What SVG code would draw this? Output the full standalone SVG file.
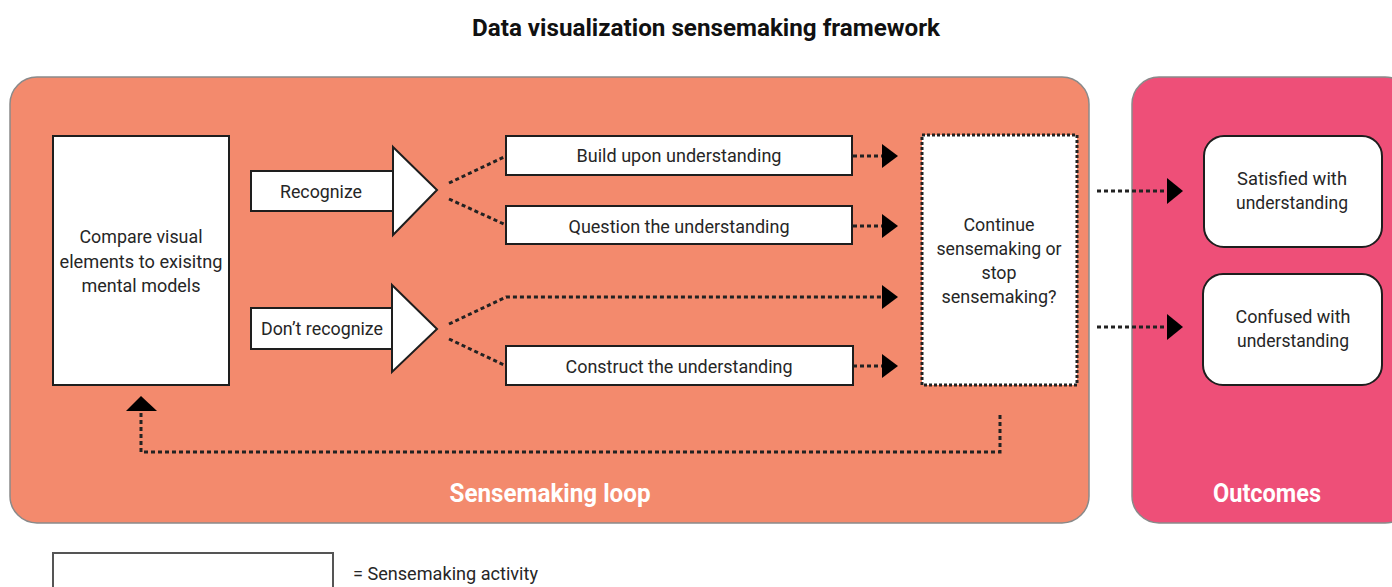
<svg xmlns="http://www.w3.org/2000/svg" width="1392" height="587" viewBox="0 0 1392 587">
  <defs>
    <style>
      .panel { stroke: #8a8a8a; stroke-width: 1.5; }
      .box { fill: #ffffff; stroke: #1e1e1e; stroke-width: 2; }
      .txt { font-family: Roboto, "Liberation Sans", sans-serif; font-size: 18px; fill: #262626; }
      .title { font-family: Roboto, "Liberation Sans", sans-serif; font-size: 24px; font-weight: bold; fill: #111111; }
      .plabel { font-family: Roboto, "Liberation Sans", sans-serif; font-size: 25px; font-weight: bold; fill: #ffffff; }
      .dot { fill: none; stroke: #222222; stroke-width: 3; stroke-dasharray: 4 3; }
      .head { fill: #000000; }
    </style>
  </defs>

  <rect width="1392" height="587" fill="#ffffff"/>

  <!-- title -->
  <text class="title" x="706" y="36" text-anchor="middle" textLength="468" lengthAdjust="spacingAndGlyphs">Data visualization sensemaking framework</text>

  <!-- background panels -->
  <g id="panel-loop">
    <rect class="panel" x="10" y="77" width="1079" height="446" rx="27" fill="#F38A6D"/>
    <text class="plabel" x="550" y="502" text-anchor="middle" textLength="201" lengthAdjust="spacingAndGlyphs">Sensemaking loop</text>
  </g>
  <g id="panel-outcomes">
    <rect class="panel" x="1132" y="77" width="280" height="446" rx="27" fill="#EE4F78"/>
    <text class="plabel" x="1267" y="502" text-anchor="middle" textLength="108" lengthAdjust="spacingAndGlyphs">Outcomes</text>
  </g>

  <!-- connectors -->
  <g id="connectors">
    <!-- branches after Recognize -->
    <path class="dot" d="M449 183 L506 156"/>
    <path class="dot" d="M449 199 L506 225"/>
    <!-- branches after Don't recognize -->
    <path class="dot" d="M449 324 L506 297 L883 297"/>
    <path class="dot" d="M449 339 L506 366"/>
    <!-- into the decision box -->
    <path class="dot" d="M853 156 L883 156"/>
    <path class="dot" d="M853 226 L883 226"/>
    <path class="dot" d="M853 366 L883 366"/>
    <polygon class="head" points="882,144 898,156 882,168"/>
    <polygon class="head" points="882,214 898,226 882,238"/>
    <polygon class="head" points="882,285 898,297 882,309"/>
    <polygon class="head" points="882,354 898,366 882,378"/>
    <!-- to outcomes -->
    <path class="dot" d="M1097 191 L1168 191"/>
    <path class="dot" d="M1097 327 L1168 327"/>
    <polygon class="head" points="1167,178 1183,191 1167,204"/>
    <polygon class="head" points="1167,314 1183,327 1167,340"/>
    <!-- loop back -->
    <path class="dot" d="M1000 415 L1000 452 L141 452 L141 410"/>
    <polygon class="head" points="126,411 141,396 157,411"/>
  </g>

  <!-- nodes -->
  <g id="node-compare">
    <rect class="box" x="53" y="136" width="176" height="249"/>
    <text class="txt" x="141" y="243" text-anchor="middle" textLength="123" lengthAdjust="spacingAndGlyphs">Compare visual</text>
    <text class="txt" x="141" y="268" text-anchor="middle" textLength="163" lengthAdjust="spacingAndGlyphs">elements to exisitng</text>
    <text class="txt" x="141" y="292" text-anchor="middle" textLength="119" lengthAdjust="spacingAndGlyphs">mental models</text>
  </g>

  <g id="node-recognize">
    <rect class="box" x="251" y="171" width="143" height="40"/>
    <polygon class="box" points="393,147 437,190 393,235"/>
    <text class="txt" x="321" y="198" text-anchor="middle" textLength="82" lengthAdjust="spacingAndGlyphs">Recognize</text>
  </g>

  <g id="node-dont-recognize">
    <rect class="box" x="251" y="308" width="142" height="41"/>
    <polygon class="box" points="392,285 437,329 392,372"/>
    <text class="txt" x="322" y="335" text-anchor="middle" textLength="122" lengthAdjust="spacingAndGlyphs">Don’t recognize</text>
  </g>

  <g id="node-build">
    <rect class="box" x="506" y="136" width="346" height="39"/>
    <text class="txt" x="679" y="162" text-anchor="middle" textLength="205" lengthAdjust="spacingAndGlyphs">Build upon understanding</text>
  </g>

  <g id="node-question">
    <rect class="box" x="506" y="206" width="346" height="38"/>
    <text class="txt" x="679" y="233" text-anchor="middle" textLength="221" lengthAdjust="spacingAndGlyphs">Question the understanding</text>
  </g>

  <g id="node-construct">
    <rect class="box" x="506" y="346" width="347" height="39"/>
    <text class="txt" x="679" y="373" text-anchor="middle" textLength="227" lengthAdjust="spacingAndGlyphs">Construct the understanding</text>
  </g>

  <g id="node-decision">
    <rect x="922" y="135" width="155" height="250" fill="#ffffff" stroke="#222222" stroke-width="3" stroke-dasharray="3 2"/>
    <text class="txt" x="999" y="231" text-anchor="middle" textLength="71" lengthAdjust="spacingAndGlyphs">Continue</text>
    <text class="txt" x="999" y="255" text-anchor="middle" textLength="125" lengthAdjust="spacingAndGlyphs">sensemaking or</text>
    <text class="txt" x="999" y="279" text-anchor="middle" textLength="35" lengthAdjust="spacingAndGlyphs">stop</text>
    <text class="txt" x="999" y="303" text-anchor="middle" textLength="115" lengthAdjust="spacingAndGlyphs">sensemaking?</text>
  </g>

  <g id="node-satisfied">
    <rect class="box" x="1204" y="136" width="178" height="111" rx="20"/>
    <text class="txt" x="1292" y="185" text-anchor="middle" textLength="110" lengthAdjust="spacingAndGlyphs">Satisfied with</text>
    <text class="txt" x="1292" y="209" text-anchor="middle" textLength="112" lengthAdjust="spacingAndGlyphs">understanding</text>
  </g>

  <g id="node-confused">
    <rect class="box" x="1203" y="274" width="179" height="111" rx="20"/>
    <text class="txt" x="1293" y="323" text-anchor="middle" textLength="115" lengthAdjust="spacingAndGlyphs">Confused with</text>
    <text class="txt" x="1293" y="347" text-anchor="middle" textLength="112" lengthAdjust="spacingAndGlyphs">understanding</text>
  </g>

  <!-- legend -->
  <g id="legend">
    <rect x="53" y="553" width="280" height="50" fill="#ffffff" stroke="#555555" stroke-width="2"/>
    <text class="txt" x="353" y="580" textLength="185" lengthAdjust="spacingAndGlyphs">= Sensemaking activity</text>
  </g>
</svg>
